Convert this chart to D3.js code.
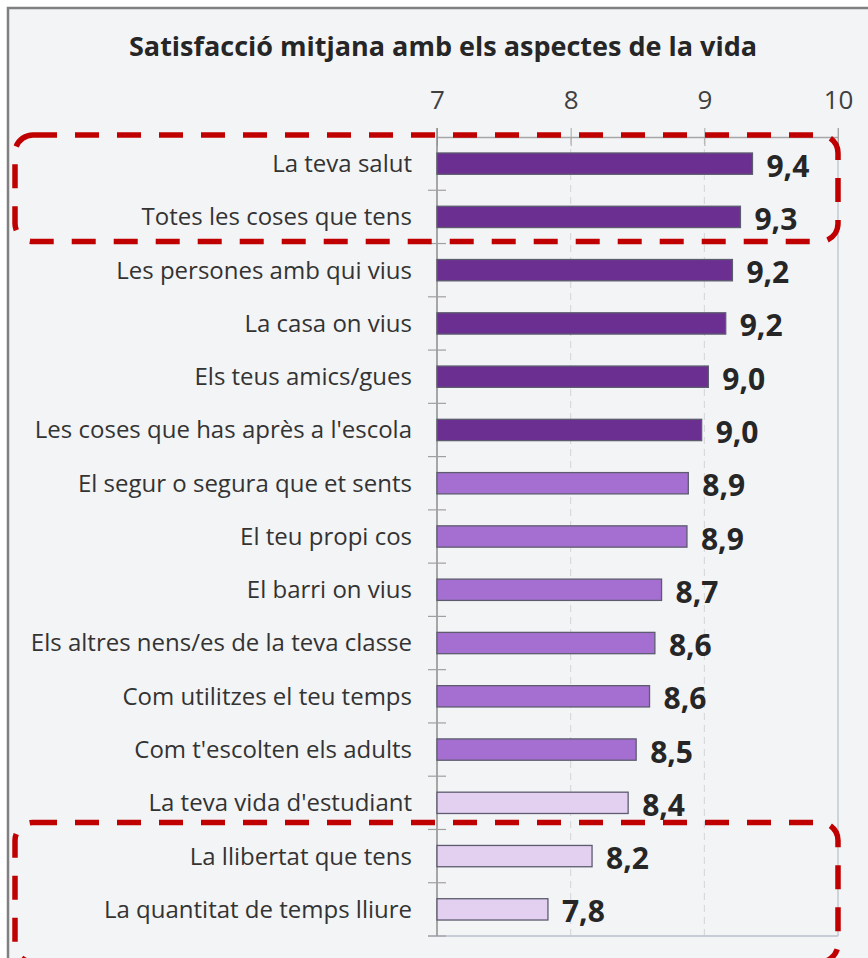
<!DOCTYPE html>
<html>
<head>
<meta charset="utf-8">
<script src="https://cdn.jsdelivr.net/npm/d3@7"></script>
<style>
    body { margin: 0; background: #ffffff; }
    #chart-area { width: 868px; height: 958px; }
    text { font-family: "Open Sans", sans-serif; }
</style>
</head>
<body>
<div id="chart-area"></div>
<script>

// data
let categories = [
    "La teva salut",
    "Totes les coses que tens",
    "Les persones amb qui vius",
    "La casa on vius",
    "Els teus amics/gues",
    "Les coses que has après a l'escola",
    "El segur o segura que et sents",
    "El teu propi cos",
    "El barri on vius",
    "Els altres nens/es de la teva classe",
    "Com utilitzes el teu temps",
    "Com t'escolten els adults",
    "La teva vida d'estudiant",
    "La llibertat que tens",
    "La quantitat de temps lliure"
];
let values = [9.36, 9.27, 9.21, 9.16, 9.03, 8.98, 8.88, 8.87, 8.68, 8.63, 8.59, 8.49, 8.43, 8.16, 7.83];
let shadeGroups = [0, 0, 0, 0, 0, 0, 1, 1, 1, 1, 1, 1, 2, 2, 2];
let tickValues = [7, 8, 9, 10];
let highlightTop = ["La teva salut", "Totes les coses que tens"];
let highlightBottom = ["La llibertat que tens", "La quantitat de temps lliure"];
let chartTitle = "Satisfacció mitjana amb els aspectes de la vida";


class BarVis {

    constructor(parentElement){
        this.parentElement = parentElement;
        this.initVis();
    }

    initVis(){
        let vis = this;

        vis.margin = {top: 137, right: 30, bottom: 22, left: 437};
        vis.width = 868 - vis.margin.left - vis.margin.right;
        vis.height = 958 - vis.margin.top - vis.margin.bottom;

        vis.root = d3.select("#" + vis.parentElement).append("svg")
            .attr("width", 868)
            .attr("height", 958);

        // frame
        vis.root.append("rect")
            .attr("x", 8).attr("y", 8)
            .attr("width", 880).attr("height", 970)
            .attr("fill", "#f3f4f6")
            .attr("stroke", "#808080")
            .attr("stroke-width", 2.5);

        // title
        vis.root.append("text")
            .attr("x", 443)
            .attr("y", 56)
            .attr("text-anchor", "middle")
            .attr("font-size", 27)
            .attr("font-weight", "bold")
            .attr("fill", "#262626")
            .text(chartTitle);

        vis.svg = vis.root.append("g")
            .attr("transform", `translate(${vis.margin.left}, ${vis.margin.top})`);

        vis.x = d3.scaleLinear()
            .domain([7, 10])
            .range([0, vis.width]);

        vis.y = d3.scaleBand()
            .domain(categories)
            .range([0, vis.height])
            .paddingInner(0.6)
            .paddingOuter(0.3);

        vis.color = d3.scaleOrdinal()
            .domain([0, 1, 2])
            .range(["#6b2f91", "#a56fd1", "#e3cff0"]);

        this.wrangleData();
    }

    wrangleData(){
        let vis = this;

        vis.displayData = categories.map((c, i) => ({
            category: c,
            value: values[i],
            group: shadeGroups[i]
        }));

        vis.updateVis();
    }

    updateVis(){
        let vis = this;
        let step = vis.y.step();
        let bandTop = c => vis.y(c) - (step - vis.y.bandwidth()) / 2;

        // dashed grid
        vis.svg.selectAll(".grid")
            .data(tickValues.slice(1, -1))
            .join("line")
            .attr("class", "grid")
            .attr("x1", d => vis.x(d)).attr("x2", d => vis.x(d))
            .attr("y1", 0).attr("y2", vis.height)
            .attr("stroke", "#d2d4d8")
            .attr("stroke-dasharray", "7,5");

        // right and bottom border of plot
        vis.svg.append("line")
            .attr("x1", vis.x(10)).attr("x2", vis.x(10))
            .attr("y1", -9).attr("y2", vis.height)
            .attr("stroke", "#c3c8d2").attr("stroke-width", 1.5);
        vis.svg.append("line")
            .attr("x1", -9).attr("x2", vis.x(10))
            .attr("y1", vis.height).attr("y2", vis.height)
            .attr("stroke", "#b9c0cc").attr("stroke-width", 1.5);

        // top axis
        vis.xAxis = d3.axisTop(vis.x)
            .tickValues(tickValues)
            .tickFormat(d3.format("d"))
            .tickSizeInner(9)
            .tickSizeOuter(0)
            .tickPadding(19);

        vis.xAxisGroup = vis.svg.append("g")
            .attr("class", "x-axis")
            .call(vis.xAxis);
        vis.xAxisGroup.select(".domain").attr("stroke", "#a6a6a6").attr("stroke-width", 1.5);
        vis.xAxisGroup.selectAll(".tick line")
            .attr("stroke", "#a6a6a6")
            .attr("y2", -9).attr("y1", 9);
        vis.xAxisGroup.selectAll(".tick text")
            .attr("font-size", 26)
            .attr("fill", "#404040")
            .attr("font-family", "'Open Sans', sans-serif");

        // left axis with ticks between categories
        vis.svg.append("line")
            .attr("x1", 0).attr("x2", 0)
            .attr("y1", -9).attr("y2", vis.height)
            .attr("stroke", "#8c8c8c").attr("stroke-width", 1.5);

        let boundaries = categories.map(c => bandTop(c)).concat([vis.height]);
        vis.svg.selectAll(".ytick")
            .data(boundaries.slice(1))
            .join("line")
            .attr("class", "ytick")
            .attr("x1", -9).attr("x2", 9)
            .attr("y1", d => d).attr("y2", d => d)
            .attr("stroke", "#a0a0a0").attr("stroke-width", 1.2);

        // category labels
        vis.svg.selectAll(".cat-label")
            .data(vis.displayData)
            .join("text")
            .attr("class", "cat-label")
            .attr("x", -25)
            .attr("y", d => vis.y(d.category) + vis.y.bandwidth() / 2)
            .attr("dy", "0.35em")
            .attr("text-anchor", "end")
            .attr("font-size", 24)
            .attr("fill", "#333333")
            .text(d => d.category);

        // bars
        vis.svg.selectAll(".bar")
            .data(vis.displayData)
            .join("rect")
            .attr("class", "bar")
            .attr("x", vis.x(7))
            .attr("y", d => vis.y(d.category))
            .attr("width", d => vis.x(d.value) - vis.x(7))
            .attr("height", vis.y.bandwidth())
            .attr("fill", d => vis.color(d.group))
            .attr("stroke", "#5c5c6e")
            .attr("stroke-width", 1.3);

        // value labels
        vis.svg.selectAll(".val-label")
            .data(vis.displayData)
            .join("text")
            .attr("class", "val-label")
            .attr("x", d => vis.x(d.value) + 14)
            .attr("y", d => vis.y(d.category) + vis.y.bandwidth() / 2 + 13)
            .attr("font-size", 30)
            .attr("font-weight", "bold")
            .attr("fill", "#262626")
            .text(d => d.value.toFixed(1).replace(".", ","));

        // red dashed highlight boxes
        let boxes = [
            {top: bandTop(highlightTop[0]) - 2, bottom: bandTop(highlightTop[1]) + step - 2},
            {top: bandTop(highlightBottom[0]) - 7, bottom: bandTop(highlightBottom[1]) + step + 26}
        ];
        vis.svg.selectAll(".highlight")
            .data(boxes)
            .join("rect")
            .attr("class", "highlight")
            .attr("x", 15 - vis.margin.left)
            .attr("y", d => d.top)
            .attr("width", vis.x(10) - (15 - vis.margin.left))
            .attr("height", d => d.bottom - d.top)
            .attr("rx", 18)
            .attr("fill", "none")
            .attr("stroke", "#c00000")
            .attr("stroke-width", 5.5)
            .attr("stroke-dasharray", "24,18");
    }
}

new BarVis("chart-area");
</script>
</body>
</html>
